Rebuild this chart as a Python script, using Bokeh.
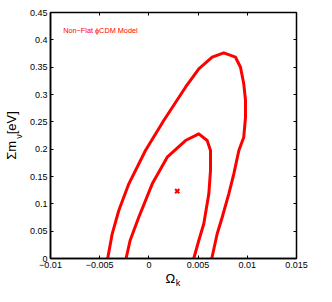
from bokeh.plotting import figure
from bokeh.models import LinearAxis, Label, FixedTicker
from bokeh.embed import file_html
from bokeh.resources import INLINE

# 95% contour (outer)
outer_ok = [-0.00419, -0.00373, -0.00306, -0.00204, -0.00035, 0.00151, 0.00372, 0.00507,
            0.00643, 0.00761, 0.00880, 0.00931, 0.00964, 0.00982, 0.00982, 0.00964,
            0.00914, 0.00863, 0.00812, 0.00745, 0.00694, 0.00639]
outer_mnu = [0.0, 0.0452, 0.0878, 0.1366, 0.1975, 0.2524, 0.3133, 0.3470,
             0.3682, 0.3763, 0.3682, 0.3499, 0.3196, 0.2890, 0.2585, 0.2219,
             0.1976, 0.1549, 0.1183, 0.0755, 0.0452, 0.0]
# 68% contour (inner)
inner_ok = [-0.00232, -0.00191, -0.00103, 0.00034, 0.00186, 0.00372, 0.00507, 0.00592,
            0.00626, 0.00626, 0.00609, 0.00558, 0.00507, 0.00456]
inner_mnu = [0.0, 0.0329, 0.0755, 0.1366, 0.1853, 0.2158, 0.2281, 0.2158,
             0.1976, 0.1610, 0.1183, 0.0635, 0.0329, 0.0]
# best fit
best_ok = [0.00288]
best_mnu = [0.1232]

x_ticks = [-0.01, -0.005, 0, 0.005, 0.01, 0.015]
x_tick_labels = ["\u22120.01", "\u22120.005", "0", "0.005", "0.01", "0.015"]
y_ticks = [0, 0.05, 0.1, 0.15, 0.2, 0.25, 0.3, 0.35, 0.4, 0.45]
y_tick_labels = ["0", "0.05", "0.1", "0.15", "0.2", "0.25", "0.3", "0.35", "0.4", "0.45"]

FONT = "Liberation Sans"
RED = "#ff0000"

p = figure(width=316, height=290, x_range=(-0.01, 0.015), y_range=(0, 0.45),
           output_backend="svg", toolbar_location=None,
           min_border_left=50, min_border_right=20, min_border_top=12, min_border_bottom=28,
           background_fill_color="white", border_fill_color="white")
p.grid.visible = False
p.outline_line_color = "black"
p.outline_line_width = 1.5

for ax, ticks, labels in ((p.xaxis[0], x_ticks, x_tick_labels), (p.yaxis[0], y_ticks, y_tick_labels)):
    ax.ticker = FixedTicker(ticks=ticks)
    ax.major_label_overrides = dict(zip(ticks, labels))
    ax.major_tick_in = 3
    ax.major_tick_out = 0
    ax.minor_tick_line_color = None
    ax.major_label_text_font = FONT
    ax.major_label_text_font_size = "9px"
    ax.major_label_text_color = "black"
    ax.axis_line_width = 1.5
    ax.major_label_standoff = 3
    ax.axis_label_text_font = FONT
    ax.axis_label_text_font_style = "normal"
    ax.axis_label_text_color = "black"

# axis titles: main symbol on the tick axes, subscripts on extra label-only axes
p.xaxis[0].axis_label = "\u03a9\u2002"
p.xaxis[0].axis_label_text_font_size = "13px"
p.xaxis[0].axis_label_standoff = 0
p.yaxis[0].axis_label = "\u03bd\u2009"
p.yaxis[0].axis_label_text_font_size = "9px"
p.yaxis[0].axis_label_standoff = 3


def label_axis(text, size, standoff):
    return LinearAxis(ticker=FixedTicker(ticks=[]), axis_line_color=None,
                      major_tick_line_color=None, minor_tick_line_color=None,
                      axis_label=text, axis_label_text_font=FONT,
                      axis_label_text_font_size=size, axis_label_text_font_style="normal",
                      axis_label_text_color="black", axis_label_standoff=standoff)


p.add_layout(label_axis("\u2003k", "9px", -11), "below")
p.add_layout(label_axis("\u03a3m\u2002[eV]", "13px", -8), "left")

top = LinearAxis(ticker=FixedTicker(ticks=x_ticks), major_label_text_font_size="1px",
                 major_label_text_color=None,
                 major_tick_in=3, major_tick_out=0, minor_tick_line_color=None,
                 major_label_standoff=0, axis_line_color=None)
right = LinearAxis(ticker=FixedTicker(ticks=y_ticks), major_label_text_font_size="1px",
                   major_label_text_color=None,
                   major_tick_in=3, major_tick_out=0, minor_tick_line_color=None,
                   major_label_standoff=0, axis_line_color=None)
p.add_layout(top, "above")
p.add_layout(right, "right")

p.line(outer_ok, outer_mnu, line_color=RED, line_width=3, line_join="round", line_cap="round")
p.line(inner_ok, inner_mnu, line_color=RED, line_width=3, line_join="round", line_cap="round")
p.scatter(best_ok, best_mnu, marker="x", size=6, line_color=RED, line_width=2)

p.add_layout(Label(x=-0.00871, y=0.417, text="Non\u2212Flat \u03d5CDM Model", text_color=RED,
                   text_font=FONT, text_font_size="7.3px", text_baseline="middle", text_align="left"))

open("out.html", "w").write(file_html(p, INLINE))
